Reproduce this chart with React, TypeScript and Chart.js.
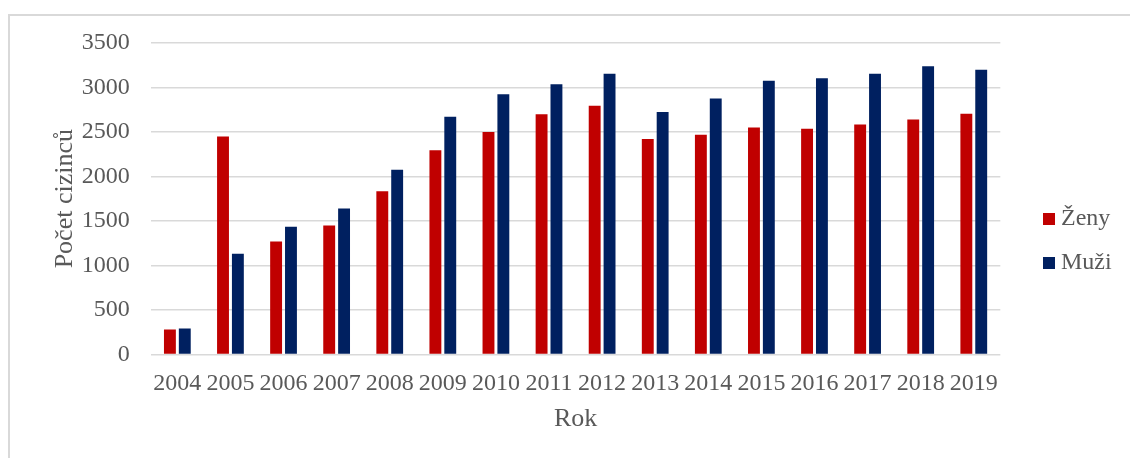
import React, { useEffect, useRef } from 'react';
import { Chart, registerables } from 'chart.js';

Chart.register(...registerables);

const years = ['2004', '2005', '2006', '2007', '2008', '2009', '2010', '2011', '2012', '2013', '2014', '2015', '2016', '2017', '2018', '2019'];
const zeny = [280, 2450, 1270, 1450, 1835, 2295, 2500, 2700, 2795, 2420, 2470, 2550, 2535, 2585, 2640, 2705];
const muzi = [290, 1130, 1435, 1640, 2075, 2670, 2925, 3035, 3155, 2725, 2875, 3075, 3105, 3155, 3240, 3200];
const seriesNames = ['Ženy', 'Muži'];
const seriesColors = ['#C00000', '#002060'];
const xTitle = 'Rok';
const yTitle = 'Počet cizinců';
const yMin = 0;
const yMax = 3500;
const yStep = 500;

const FONT = "'Liberation Serif', 'Times New Roman', serif";
const TEXT = '#595959';
const GRID = '#d9d9d9';
const LEGEND_LEFT = 1029;
const LEGEND_TOP = 187;

const legendPlace = {
  id: 'legendPlace',
  afterLayout(chart: any) {
    const lg = chart.legend;
    if (!lg) return;
    const w = lg.right - lg.left;
    const h = lg.bottom - lg.top;
    lg.left = LEGEND_LEFT;
    lg.right = LEGEND_LEFT + w;
    lg.top = LEGEND_TOP;
    lg.bottom = LEGEND_TOP + h;
  },
};

export default function App() {
  const ref = useRef<HTMLCanvasElement | null>(null);

  useEffect(() => {
    document.body.style.overflow = 'hidden';
    const canvas = ref.current;
    if (!canvas) return;
    const chart = new Chart(canvas, {
      type: 'bar',
      data: {
        labels: years,
        datasets: [
          {
            label: seriesNames[0],
            data: zeny,
            backgroundColor: seriesColors[0],
            categoryPercentage: 0.56,
            barPercentage: 0.8,
          },
          {
            label: seriesNames[1],
            data: muzi,
            backgroundColor: seriesColors[1],
            categoryPercentage: 0.56,
            barPercentage: 0.8,
          },
        ],
      },
      options: {
        animation: false,
        responsive: false,
        devicePixelRatio: 1,
        layout: { padding: { left: 52, right: 37, top: 43, bottom: 19 } },
        plugins: {
          tooltip: { enabled: false },
          legend: {
            display: true,
            position: 'right',
            align: 'start',
            labels: {
              usePointStyle: true,
              pointStyle: 'rect',
              boxWidth: 0.01,
              boxHeight: 12,
              padding: 20,
              color: TEXT,
              font: { family: FONT, size: 24 },
            },
          },
        },
        scales: {
          x: {
            grid: { display: false, drawTicks: false },
            border: { display: false },
            ticks: {
              color: TEXT,
              font: { family: FONT, size: 24 },
              padding: 15,
              maxRotation: 0,
              minRotation: 0,
              autoSkip: false,
            },
            title: {
              display: true,
              text: xTitle,
              color: TEXT,
              font: { family: FONT, size: 26 },
              padding: { top: -9.4, bottom: 4 },
            },
          },
          y: {
            min: yMin,
            max: yMax,
            grid: { color: GRID, lineWidth: 1.5, drawTicks: false },
            border: { display: false },
            ticks: {
              stepSize: yStep,
              color: TEXT,
              font: { family: FONT, size: 24 },
              padding: 21,
              callback: (v: any) => String(v),
            },
            title: {
              display: true,
              text: yTitle,
              color: TEXT,
              font: { family: FONT, size: 26 },
              padding: { top: -2, bottom: -20.4 },
            },
          },
        },
      },
      plugins: [legendPlace],
    });
    return () => chart.destroy();
  }, []);

  return (
    <div style={{ position: 'fixed', left: 0, top: 0, width: 1130, height: 458, overflow: 'hidden', background: '#fff' }}>
      <div
        style={{
          position: 'absolute',
          left: 8,
          top: 14,
          width: 1200,
          height: 500,
          borderTop: `2px solid ${GRID}`,
          borderLeft: `2px solid ${GRID}`,
        }}
      />
      <canvas ref={ref} width={1130} height={458} style={{ position: 'absolute', left: 0, top: 0, width: 1130, height: 458 }} />
    </div>
  );
}
